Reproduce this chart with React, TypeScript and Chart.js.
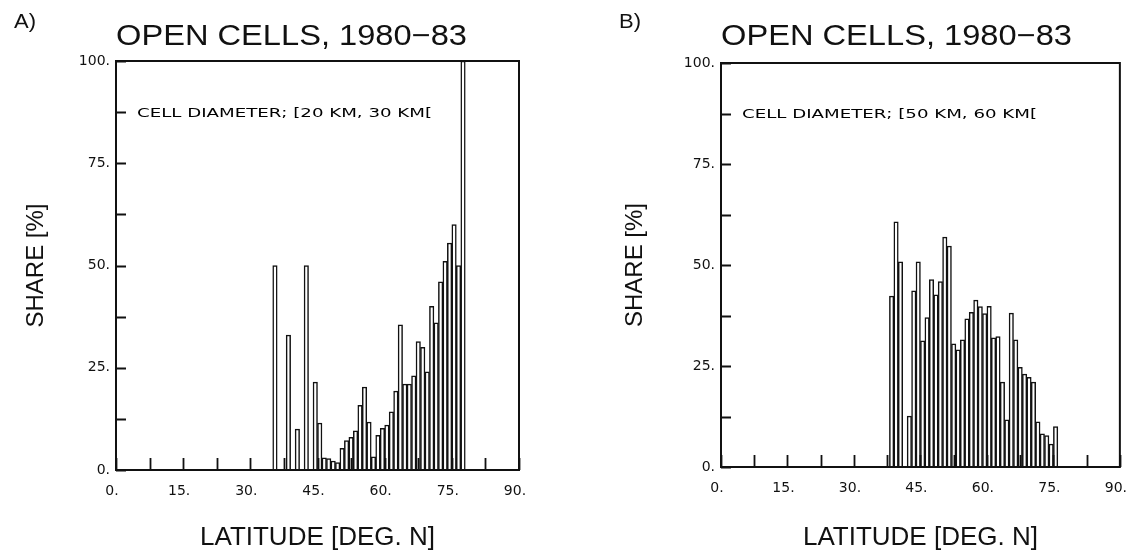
import React, { useEffect, useRef } from 'react';
import { Chart, registerables } from 'chart.js';

Chart.register(...registerables);

// ---------- DATA ----------
// Latitude bins (lower edge, deg N, 1-degree wide) and share of open cells [%]
const latBinsA = [35, 36, 37, 38, 39, 40, 41, 42, 43, 44, 45, 46, 47, 48, 49, 50, 51, 52, 53, 54, 55, 56, 57, 58, 59, 60, 61, 62, 63, 64, 65, 66, 67, 68, 69, 70, 71, 72, 73, 74, 75, 76, 77];
const shareA = [50, 0, 0, 33, 0, 10, 0, 50, 0, 21.5, 11.5, 3, 2.8, 2.2, 1.8, 5.3, 7.2, 8, 9.6, 15.8, 20.3, 11.7, 3.2, 8.5, 10.2, 11, 14.2, 19.3, 35.5, 21, 21, 23, 31.4, 30, 24, 40, 36, 46, 51, 55.5, 60, 50, 100];

const latBinsB = [38, 39, 40, 41, 42, 43, 44, 45, 46, 47, 48, 49, 50, 51, 52, 53, 54, 55, 56, 57, 58, 59, 60, 61, 62, 63, 64, 65, 66, 67, 68, 69, 70, 71, 72, 73, 74, 75];
const shareB = [42.3, 60.7, 50.8, 0, 12.6, 43.6, 50.8, 31.2, 37, 46.4, 42.6, 45.9, 56.9, 54.7, 30.5, 29, 31.5, 36.7, 38.3, 41.3, 39.7, 38, 39.8, 32, 32.3, 21, 11.7, 38.1, 31.5, 24.7, 23, 22.2, 21, 11.2, 8.2, 7.8, 5.7, 10];

const xRange = [0, 90];
const xTickStep = 7.5;
const xLabelStep = 15;
const yRange = [0, 100];
const yTickStep = 12.5;
const yLabelStep = 25;

const panelLabels = ['A)', 'B)'];
const chartTitle = 'OPEN CELLS, 1980\u221283';
const diameterNotes = ['CELL DIAMETER; [20 KM, 30 KM[', 'CELL DIAMETER; [50 KM, 60 KM['];
const noteLevel = 87.5;
const xAxisTitle = 'LATITUDE [DEG. N]';
const yAxisTitle = 'SHARE [%]';

// ---------- STYLE / LAYOUT ----------
const INK = '#111';
const FONT = "'Liberation Sans', Arial, sans-serif";
const TICK_FONT = "'DejaVu Sans', 'Liberation Sans', sans-serif";
const CW = 572;
const CH = 556;

type Panel = {
  label: string;
  note: string;
  bins: number[];
  shares: number[];
  canvasLeft: number;
  box: { left: number; right: number; top: number; bottom: number };
  yTitleCenter: number;
};

const panels: Panel[] = [
  {
    label: panelLabels[0],
    note: diameterNotes[0],
    bins: latBinsA,
    shares: shareA,
    canvasLeft: 0,
    box: { left: 116, right: 519, top: 61, bottom: 470 },
    yTitleCenter: 36,
  },
  {
    label: panelLabels[1],
    note: diameterNotes[1],
    bins: latBinsB,
    shares: shareB,
    canvasLeft: 572,
    box: { left: 721, right: 1126, top: 63, bottom: 467 },
    yTitleCenter: 63,
  },
];

function stretchedText(ctx: CanvasRenderingContext2D, text: string, x: number, y: number, targetWidth: number) {
  const w = ctx.measureText(text).width;
  const sx = targetWidth / w;
  ctx.save();
  ctx.translate(x, y);
  ctx.scale(sx, 1);
  ctx.fillText(text, 0, 0);
  ctx.restore();
}

function decorPlugin(p: Panel) {
  return {
    id: 'decor',
    afterDraw(chart: any) {
      const { ctx, chartArea: a, scales } = chart;
      const xs = scales.x;
      const ys = scales.y;
      ctx.save();
      // frame
      ctx.strokeStyle = INK;
      ctx.lineWidth = 2;
      ctx.strokeRect(a.left, a.top, a.right - a.left, a.bottom - a.top);
      // inward ticks
      ctx.lineWidth = 1.8;
      ctx.beginPath();
      xs.ticks.forEach((t: any) => {
        const px = Math.round(xs.getPixelForValue(t.value)) + 0.5;
        ctx.moveTo(px, a.bottom);
        ctx.lineTo(px, a.bottom - 12);
      });
      ys.ticks.forEach((t: any) => {
        const py = Math.round(ys.getPixelForValue(t.value)) + 0.5;
        ctx.moveTo(a.left, py);
        ctx.lineTo(a.left + 10, py);
      });
      ctx.stroke();
      // annotation
      ctx.fillStyle = '#000';
      ctx.font = `13px ${TICK_FONT}`;
      ctx.textBaseline = 'middle';
      ctx.textAlign = 'left';
      stretchedText(ctx, p.note, xs.getPixelForValue(0) + 21, ys.getPixelForValue(noteLevel) + 1, 295);
      // title and panel letter
      ctx.fillStyle = INK;
      ctx.textBaseline = 'alphabetic';
      ctx.font = `29px ${FONT}`;
      stretchedText(ctx, chartTitle, a.left, 45, 351);
      ctx.font = `20px ${FONT}`;
      stretchedText(ctx, p.label, a.left - 102, 28, 22);
      ctx.restore();
    },
  };
}

function makeConfig(p: Panel): any {
  const left = p.box.left - p.canvasLeft;
  const right = p.box.right - p.canvasLeft;
  return {
    type: 'bar',
    data: {
      datasets: [
        {
          data: p.bins.map((b, i) => ({ x: b + 0.5, y: p.shares[i] })),
          backgroundColor: '#ffffff',
          borderColor: INK,
          borderWidth: 1.5,
          borderSkipped: 'start',
          barPercentage: 1,
          categoryPercentage: 1,
        },
      ],
    },
    options: {
      responsive: false,
      animation: false,
      events: [],
      layout: { padding: { left: 0, right: CW - right, top: p.box.top, bottom: 0 } },
      plugins: {
        legend: { display: false },
        tooltip: { enabled: false },
        title: { display: false },
      },
      scales: {
        x: {
          type: 'linear',
          min: xRange[0],
          max: xRange[1],
          offset: false,
          grid: { display: false, drawTicks: false },
          border: { display: false },
          ticks: {
            stepSize: xTickStep,
            autoSkip: false,
            maxRotation: 0,
            padding: 13,
            labelOffset: -4,
            color: INK,
            font: { family: TICK_FONT, size: 14 },
            callback: (v: number) => (v % xLabelStep === 0 ? `${v}.` : ''),
          },
          title: {
            display: true,
            text: xAxisTitle,
            color: INK,
            font: { family: FONT, size: 26 },
            padding: { top: 0, bottom: 3 },
          },
          afterFit: (s: any) => {
            s.height = CH - p.box.bottom;
          },
        },
        y: {
          min: yRange[0],
          max: yRange[1],
          grid: { display: false, drawTicks: false },
          border: { display: false },
          ticks: {
            stepSize: yTickStep,
            autoSkip: false,
            padding: 6,
            color: INK,
            font: { family: TICK_FONT, size: 14 },
            callback: (v: number) => (v % yLabelStep === 0 ? `${v}.` : ''),
          },
          title: {
            display: true,
            text: yAxisTitle,
            color: INK,
            font: { family: FONT, size: 24 },
            padding: { top: p.yTitleCenter - 14.4, bottom: 0 },
          },
          afterFit: (s: any) => {
            s.width = left;
          },
        },
      },
    },
    plugins: [decorPlugin(p)],
  };
}

function PanelChart({ p }: { p: Panel }) {
  const ref = useRef<HTMLCanvasElement | null>(null);
  useEffect(() => {
    if (!ref.current) return;
    const chart = new Chart(ref.current, makeConfig(p));
    return () => chart.destroy();
  }, [p]);
  return (
    <canvas
      ref={ref}
      width={CW}
      height={CH}
      style={{ position: 'absolute', left: p.canvasLeft, top: 0, width: CW, height: CH }}
    />
  );
}

export default function App() {
  return (
    <div style={{ position: 'absolute', left: 0, top: 0, width: 1144, height: 556, background: '#fff', overflow: 'hidden' }}>
      {panels.map((p) => (
        <PanelChart key={p.label} p={p} />
      ))}
    </div>
  );
}
